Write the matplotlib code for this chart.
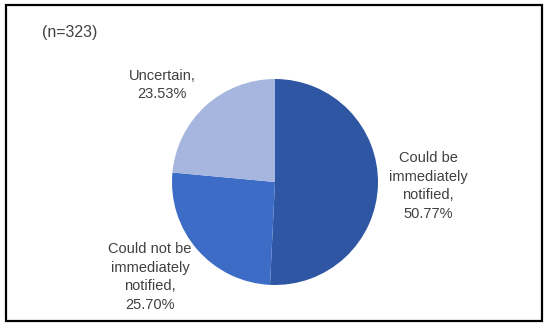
import matplotlib
matplotlib.use("Agg")
import matplotlib.pyplot as plt
from matplotlib.patches import Rectangle

# data
labels = ["Could be\nimmediately\nnotified,\n50.77%",
          "Could not be\nimmediately\nnotified,\n25.70%",
          "Uncertain,\n23.53%"]
shares = [50.77, 25.70, 23.53]
colors = ["#2f56a3", "#3d6cc6", "#a6b6de"]
sample_note = "(n=323)"

W, H = 550, 328
fig = plt.figure(figsize=(W / 100, H / 100), dpi=100)
plt.rcParams['font.family'] = ['Liberation Sans', 'DejaVu Sans']

def fx(px):
    return px / W

def fy(py):
    return 1 - py / H

# outer frame
fig.patches.append(Rectangle((fx(6), fy(321)), fx(542) - fx(6), fy(5) - fy(321),
                             transform=fig.transFigure, fill=False,
                             edgecolor="black", linewidth=1.6))

# pie area (pixel box of the circle)
ax = fig.add_axes([fx(172), fy(285), fx(378) - fx(172), fy(79) - fy(285)])
ax.pie(shares, colors=colors, startangle=90, counterclock=False,
       wedgeprops=dict(linewidth=0))
ax.set_xlim(-1, 1)
ax.set_ylim(-1, 1)
ax.set_aspect("equal")
ax.axis("off")

txt = dict(ha="center", va="center", color="#404040", fontsize=10.5, linespacing=1.45)
fig.text(fx(70), fy(33), sample_note, **{**txt, "fontsize": 11.5})
fig.text(fx(428), fy(186), labels[0], **txt)
fig.text(fx(150), fy(277), labels[1], **txt)
fig.text(fx(162), fy(85), labels[2], **txt)

fig.savefig("out.png", dpi=100)
